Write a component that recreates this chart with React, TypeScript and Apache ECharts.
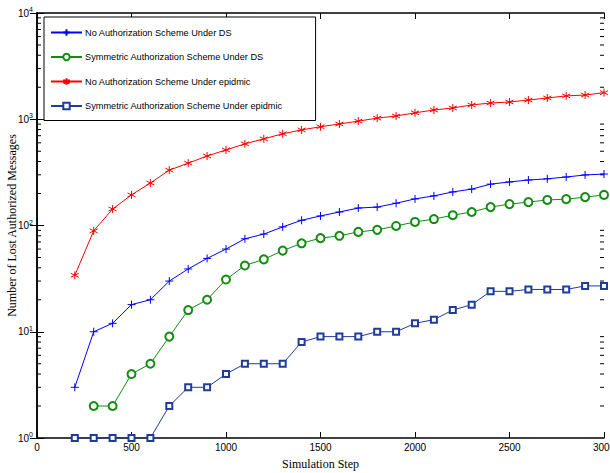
import React, { useEffect, useRef } from "react";
import * as echarts from "echarts";

const steps = [200, 300, 400, 500, 600, 700, 800, 900, 1000, 1100, 1200, 1300, 1400, 1500, 1600, 1700, 1800, 1900, 2000, 2100, 2200, 2300, 2400, 2500, 2600, 2700, 2800, 2900, 3000];

const noAuthDS = [3, 10, 12, 18, 20, 30, 39, 49, 60, 75, 83, 97, 112, 123, 134, 146, 149, 162, 178, 190, 207, 220, 245, 257, 268, 275, 286, 299, 305];
const symDS = [null, 2, 2, 4, 5, 9, 16, 20, 31, 42, 48, 58, 68, 76, 80, 87, 91, 99, 108, 115, 125, 134, 149, 159, 166, 174, 177, 185, 194];
const noAuthEpi = [34, 89, 143, 194, 251, 332, 386, 451, 514, 587, 654, 730, 794, 850, 902, 960, 1025, 1073, 1150, 1222, 1277, 1362, 1422, 1453, 1516, 1585, 1660, 1690, 1780];
const symEpi = [1, 1, 1, 1, 1, 2, 3, 3, 4, 5, 5, 5, 8, 9, 9, 9, 10, 10, 12, 13, 16, 18, 24, 24, 25, 25, 25, 27, 27];

const seriesNames = [
  "No Authorization Scheme Under DS",
  "Symmetric Authorization Scheme Under DS",
  "No Authorization Scheme Under epidmic",
  "Symmetric Authorization Scheme Under epidmic",
];

const minorTickValues = [2, 3, 4, 5, 6, 7, 8, 9, 20, 30, 40, 50, 60, 70, 80, 90, 200, 300, 400, 500, 600, 700, 800, 900, 2000, 3000, 4000, 5000, 6000, 7000, 8000, 9000];

const PLUS = "path://M0,-5L0,5M-5,0L5,0";
const STAR = "path://M0,-5L0,5M-4.33,-2.5L4.33,2.5M-4.33,2.5L4.33,-2.5";

const FONT = "'Liberation Sans', Arial, sans-serif";
const SERIF = "'Liberation Serif', 'Times New Roman', serif";

export default function App() {
  const ref = useRef<HTMLDivElement>(null);
  useEffect(() => {
    if (!ref.current) return;
    const chart = echarts.init(ref.current, null, { renderer: "svg" });
    const pair = (vals: (number | null)[]) => steps.map((s, i) => [s, vals[i]]).filter((p) => p[1] !== null);
    const colors = ["#0000ff", "#148c14", "#ff0000", "#1f3c9a"];
    const mkLine = (idx: number, vals: (number | null)[], symbol: string, size: number) => ({
      name: seriesNames[idx],
      type: "line",
      data: pair(vals),
      symbol,
      symbolSize: size,
      showSymbol: true,
      lineStyle: { color: colors[idx], width: 1 },
      itemStyle: { color: colors[idx], borderColor: colors[idx], borderWidth: 1 },
      emphasis: { disabled: true },
      z: 3,
    });
    const yLabelFmt = (v: number) => "10{sup|" + Math.round(Math.log10(v)) + "}";
    const yLabel = {
      formatter: yLabelFmt,
      fontFamily: FONT,
      fontSize: 10,
      color: "#000",
      margin: 4,
      rich: { sup: { fontSize: 7, fontFamily: FONT, color: "#000", padding: [0, 0, 7, 0] } },
    };
    chart.setOption({
      animation: false,
      grid: { left: 37, right: 6, top: 13, bottom: 35, containLabel: false, outerBoundsMode: "none" },
      legend: {
        data: seriesNames,
        orient: "vertical",
        left: 44,
        top: 17,
        itemWidth: 31,
        itemHeight: 8,
        itemGap: 15.5,
        padding: [11, 33, 10, 6],
        borderColor: "#000",
        borderWidth: 1,
        backgroundColor: "#fff",
        textStyle: { fontFamily: FONT, fontSize: 9.2, color: "#000", padding: [0, 0, 0, -2] },
        selectedMode: false,
      },
      xAxis: [
        {
          type: "value",
          min: 0,
          max: 3000,
          interval: 500,
          name: "Simulation Step",
          nameLocation: "middle",
          nameGap: 20,
          nameMoveOverlap: false,
          nameTextStyle: { fontFamily: SERIF, fontSize: 12, color: "#000" },
          axisLine: { show: true, lineStyle: { color: "#000", width: 1.5 } },
          axisTick: { show: true, inside: true, length: 6, lineStyle: { color: "#000" } },
          axisLabel: { fontFamily: FONT, fontSize: 10, color: "#000", margin: 4, formatter: (v: number) => String(v) },
          splitLine: { show: false },
        },
        {
          type: "value",
          position: "top",
          min: 0,
          max: 3000,
          interval: 500,
          axisLine: { show: true, lineStyle: { color: "#000", width: 1.5 } },
          axisTick: { show: true, inside: true, length: 6, lineStyle: { color: "#000" } },
          axisLabel: { show: false },
          splitLine: { show: false },
        },
      ],
      yAxis: [
        {
          type: "log",
          logBase: 10,
          min: 1,
          max: 10000,
          name: "Number of Lost Authorized Messages",
          nameLocation: "middle",
          nameGap: 19,
          nameMoveOverlap: false,
          nameTextStyle: { fontFamily: SERIF, fontSize: 12, color: "#000" },
          axisLine: { show: true, lineStyle: { color: "#000", width: 1.5 } },
          axisTick: { show: true, inside: true, length: 7, lineStyle: { color: "#000" } },
          axisLabel: yLabel,
          splitLine: { show: false },
        },
        {
          type: "log",
          logBase: 10,
          min: 1,
          max: 10000,
          position: "right",
          axisLine: { show: true, lineStyle: { color: "#000", width: 1.5 } },
          axisTick: { show: true, inside: true, length: 7, lineStyle: { color: "#000" } },
          axisLabel: { show: false },
          splitLine: { show: false },
        },
      ],
      series: [
        mkLine(0, noAuthDS, PLUS, 8),
        mkLine(1, symDS, "emptyCircle", 8),
        mkLine(2, noAuthEpi, STAR, 8),
        mkLine(3, symEpi, "emptyRect", 6),
        {
          name: "minorTicks",
          type: "custom",
          data: minorTickValues.map((v) => [0, v]),
          silent: true,
          z: 2,
          renderItem: (params: any, api: any) => {
            const v = api.value(1);
            const l = api.coord([0, v]);
            const r = api.coord([3000, v]);
            return {
              type: "group",
              children: [
                { type: "line", shape: { x1: l[0], y1: l[1], x2: l[0] + 4, y2: l[1] }, style: { stroke: "#000", lineWidth: 1 } },
                { type: "line", shape: { x1: r[0], y1: r[1], x2: r[0] - 4, y2: r[1] }, style: { stroke: "#000", lineWidth: 1 } },
              ],
            };
          },
        },
      ],
    });
    return () => chart.dispose();
  }, []);
  return <div ref={ref} style={{ width: 610, height: 473, position: "absolute", left: 0, top: 0 }} />;
}
